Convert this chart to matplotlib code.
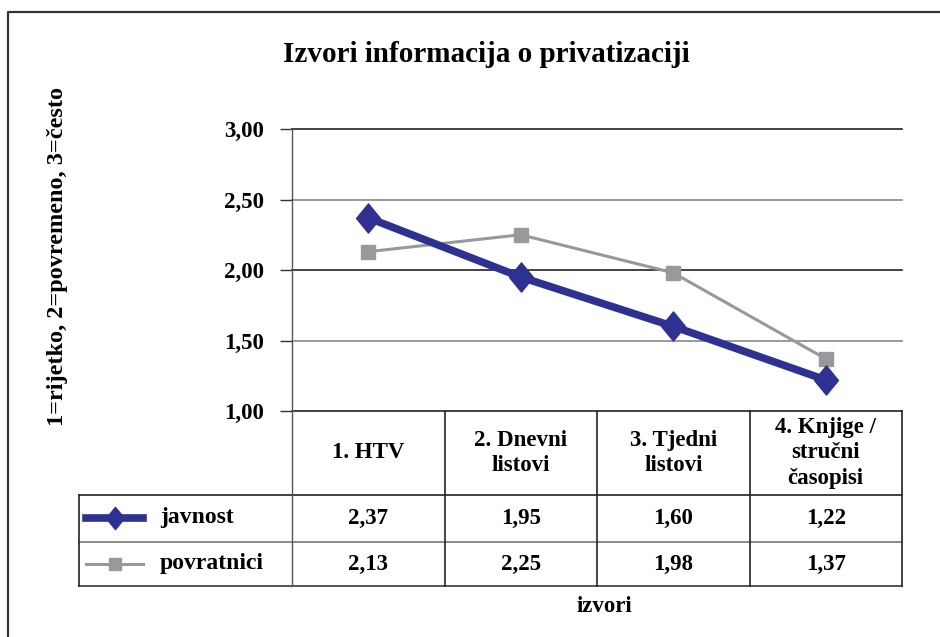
import matplotlib
matplotlib.use("Agg")
import matplotlib.pyplot as plt
from matplotlib.lines import Line2D
from matplotlib.path import Path
import matplotlib.transforms as mtransforms

categories = ["1. HTV", "2. Dnevni\nlistovi", "3. Tjedni\nlistovi", "4. Knjige /\nstručni\nčasopisi"]
javnost = [2.37, 1.95, 1.60, 1.22]
povratnici = [2.13, 2.25, 1.98, 1.37]
series_names = ["javnost", "povratnici"]
yticks = [1.0, 1.5, 2.0, 2.5, 3.0]
ytick_labels = ["1,00", "1,50", "2,00", "2,50", "3,00"]
title = "Izvori informacija o privatizaciji"
ylabel = "1=rijetko, 2=povremeno, 3=često"
xlabel = "izvori"

W, H = 940, 637
FONT = "Liberation Serif"
NAVY = "#2e3192"
GRAY = "#999999"
FS = 16.5

diamond = Path([(0, 1), (0.82, 0), (0, -1), (-0.82, 0), (0, 1)],
               [Path.MOVETO, Path.LINETO, Path.LINETO, Path.LINETO, Path.CLOSEPOLY])

fig = plt.figure(figsize=(W / 100, H / 100), dpi=100)
fig.patch.set_facecolor("white")

def fx(px):
    return px / W

def fy(py):
    return 1 - py / H

# outer frame
fig.add_artist(Line2D([fx(8), fx(8), fx(945)], [fy(640), fy(12), fy(12)],
                      color="#333333", lw=1.6, transform=fig.transFigure))

L, R, T, B = 292, 902, 129, 411
ax = fig.add_axes([fx(L), fy(B), fx(R) - fx(L), fy(T) - fy(B)])
ax.set_xlim(0.5, 4.5)
ax.set_ylim(1.0, 3.0)
for s in ["top", "right", "bottom"]:
    ax.spines[s].set_visible(False)
ax.spines["left"].set_color("#555555")
ax.spines["left"].set_linewidth(1.0)
ax.set_xticks([])
ax.set_yticks(yticks)
ax.set_yticklabels(ytick_labels, fontfamily=FONT, fontweight="bold", fontsize=FS)
ax.tick_params(axis="y", length=9, width=1.0, color="#333333", pad=11)

grid_colors = ["#222222", "#888888", "#222222", "#888888", "#222222"]
for v, c in zip(yticks, grid_colors):
    ax.axhline(v, color=c, lw=1.2, zorder=1, clip_on=False)

x = [1, 2, 3, 4]
ax.plot(x, povratnici, color=GRAY, lw=2.2, marker="s", ms=10, mec=GRAY, mfc=GRAY, zorder=3, clip_on=False)
ax.plot(x, javnost, color=NAVY, lw=5.5, marker=diamond, ms=21, mec=NAVY, mfc=NAVY, zorder=4, clip_on=False)

fig.text(fx(486), fy(55), title, ha="center", va="center", fontfamily=FONT, fontweight="bold", fontsize=21)
fig.text(fx(58), fy(257), ylabel, ha="center", va="center", rotation=90, fontfamily=FONT, fontweight="bold", fontsize=17.5)
fig.text(fx(604), fy(607), xlabel, ha="center", va="center", fontfamily=FONT, fontweight="bold", fontsize=FS)

# data table
trans = mtransforms.blended_transform_factory(ax.transData, fig.transFigure)
TL = 79
line_kw = dict(transform=fig.transFigure, color="#222222", lw=1.2)
fig.add_artist(Line2D([fx(TL), fx(R)], [fy(495), fy(495)], **line_kw))
fig.add_artist(Line2D([fx(TL), fx(R)], [fy(542), fy(542)], transform=fig.transFigure, color="#777777", lw=1.2))
fig.add_artist(Line2D([fx(TL), fx(R)], [fy(586), fy(586)], transform=fig.transFigure, color="#555555", lw=1.4))
fig.add_artist(Line2D([fx(TL), fx(TL)], [fy(495), fy(586)], **line_kw))
fig.add_artist(Line2D([fx(L), fx(L)], [fy(B), fy(586)], transform=fig.transFigure, color="#555555", lw=1.0))
for xb in [1.5, 2.5, 3.5, 4.5]:
    fig.add_artist(Line2D([xb, xb], [fy(B), fy(586)], transform=trans, color="#222222", lw=1.2))

for i, cat in enumerate(categories):
    fig.text(x[i], fy(453), cat, transform=trans, ha="center", va="center", fontfamily=FONT,
             fontweight="bold", fontsize=FS, linespacing=1.3)

row_centers = [518, 564]
for vals, yc in zip([javnost, povratnici], row_centers):
    for i, v in enumerate(vals):
        fig.text(x[i], fy(yc), f"{v:.2f}".replace(".", ","), transform=trans, ha="center", va="center",
                 fontfamily=FONT, fontweight="bold", fontsize=FS)

# legend keys
styles = [dict(color=NAVY, lw=5.5, marker=diamond, ms=16), dict(color=GRAY, lw=2.2, marker="s", ms=9)]
for name, st, yc in zip(series_names, styles, row_centers):
    fig.add_artist(Line2D([fx(86), fx(143)], [fy(yc), fy(yc)], transform=fig.transFigure,
                          color=st["color"], lw=st["lw"]))
    fig.add_artist(Line2D([fx(114.5)], [fy(yc)], transform=fig.transFigure, color=st["color"],
                          marker=st["marker"], ms=st["ms"], mec=st["color"], mfc=st["color"], lw=0))
    fig.text(fx(160), fy(yc), name, ha="left", va="center", fontfamily=FONT, fontweight="bold", fontsize=17)

fig.savefig("out.png", dpi=100)
